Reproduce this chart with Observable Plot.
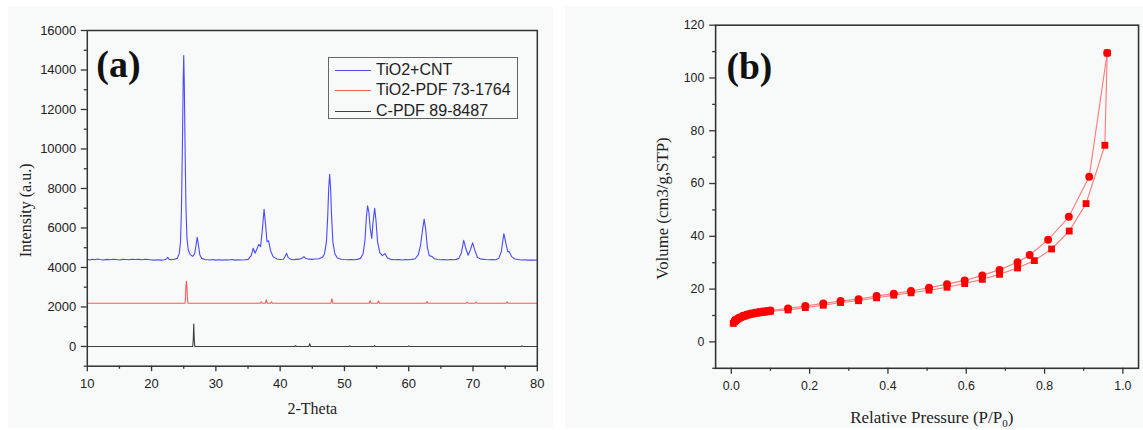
<!DOCTYPE html>
<html>
<head>
<meta charset="utf-8">
<script src="https://cdn.jsdelivr.net/npm/d3@7"></script>
<script src="https://cdn.jsdelivr.net/npm/@observablehq/plot@0.6"></script>
<style>
  html, body { margin: 0; padding: 0; background: #ffffff; }
  #page { position: relative; width: 1143px; height: 430px; overflow: hidden; background: #ffffff; }
  .panel-bg { position: absolute; background: #f8f9f9; }
  .chart { position: absolute; top: 0; }
  .legend { position: absolute; border: 1px solid #666; box-sizing: border-box; }
  .legend-row { position: absolute; left: 0; height: 20px; }
  .legend-line { position: absolute; height: 0; border-top: 1.2px solid; }
  .legend-text { position: absolute; font-family: "Liberation Sans", Arial, sans-serif; font-size: 16px; color: #222; line-height: 20px; white-space: nowrap; }
  .xtitle { position: absolute; font-family: "Liberation Serif", "Times New Roman", serif; font-size: 17px; color: #222; line-height: 20px; text-align: center; white-space: nowrap; }
  .xtitle sub { font-size: 11px; vertical-align: -4px; line-height: 0; }
</style>
</head>
<body>
<div id="page">
  <div class="panel-bg" style="left:8px;top:7px;width:545px;height:421px;"></div>
  <div class="panel-bg" style="left:565px;top:7px;width:578px;height:421px;"></div>
  <div id="chartA" class="chart" style="left:0px;"></div>
  <div id="chartB" class="chart" style="left:570px;"></div>
</div>
<script>
// ---------- Panel (a): XRD patterns ----------
const xrdTicks = [10, 20, 30, 40, 50, 60, 70, 80];
const xrdMinorTicks = [15, 25, 35, 45, 55, 65, 75];
const intensityTicks = [0, 2000, 4000, 6000, 8000, 10000, 12000, 14000, 16000];
const intensityMinorTicks = [-1000, 1000, 3000, 5000, 7000, 9000, 11000, 13000, 15000];

const seriesNames = ["TiO2+CNT", "TiO2-PDF 73-1764", "C-PDF 89-8487"];
const seriesColors = ["#4a4aff", "#ff5a5a", "#404040"];

const cntPattern = [
  [10.0,4410],[10.4,4380],[10.8,4420],[11.2,4390],[11.6,4430],[12.0,4400],[12.5,4380],[13.0,4410],[13.5,4390],
  [14.0,4420],[14.5,4400],[15.0,4380],[15.5,4410],[16.0,4400],[16.5,4390],[17.0,4420],[17.5,4400],[18.0,4410],
  [18.5,4390],[19.0,4420],[19.5,4400],[20.0,4380],[20.5,4370],[21.0,4390],[21.5,4370],[22.0,4390],[22.3,4430],
  [22.5,4510],[22.7,4420],[23.0,4390],[23.5,4420],[24.0,4460],[24.3,4700],[24.5,5300],[24.65,7000],[24.8,10300],
  [24.92,13500],[25.0,14730],[25.08,13500],[25.2,10300],[25.35,7000],[25.5,5500],[25.7,4900],[26.0,4650],
  [26.4,4560],[26.7,4700],[26.9,5100],[27.1,5525],[27.3,5100],[27.5,4650],[27.8,4460],[28.3,4400],[29.0,4380],
  [29.5,4400],[30.0,4370],[30.5,4390],[31.0,4370],[31.5,4390],[32.0,4380],[32.5,4400],[33.0,4370],[33.5,4390],
  [34.0,4380],[34.5,4390],[35.0,4410],[35.5,4600],[35.8,4970],[36.1,4720],[36.4,4950],[36.67,5170],[36.95,5050],
  [37.2,5800],[37.5,6950],[37.75,6100],[37.95,5300],[38.2,5350],[38.5,4850],[38.9,4550],[39.5,4430],[40.0,4400],
  [40.5,4420],[40.75,4550],[41.0,4715],[41.25,4500],[41.6,4420],[42.0,4390],[42.5,4410],[43.0,4420],[43.3,4450],
  [43.7,4545],[44.0,4450],[44.5,4420],[45.0,4410],[45.5,4430],[46.0,4440],[46.6,4520],[46.9,4700],[47.2,5300],
  [47.4,6600],[47.55,8000],[47.7,8720],[47.85,8000],[48.0,6600],[48.2,5300],[48.5,4700],[48.9,4480],[49.5,4420],
  [50.0,4400],[50.5,4390],[51.0,4400],[51.5,4390],[52.0,4410],[52.5,4460],[52.9,4700],[53.2,5400],[53.4,6500],
  [53.6,7120],[53.8,6800],[54.0,6000],[54.25,5475],[54.45,6300],[54.7,6990],[54.9,6400],[55.15,5300],[55.5,4750],
  [55.9,4600],[56.3,4700],[56.7,4480],[57.2,4410],[57.8,4390],[58.5,4400],[59.0,4380],[59.5,4400],[60.0,4390],
  [60.5,4410],[61.0,4440],[61.5,4650],[61.85,5150],[62.15,5900],[62.4,6450],[62.65,5900],[62.9,5000],[63.2,4600],
  [63.6,4560],[64.0,4440],[64.5,4400],[65.0,4390],[65.5,4400],[66.0,4380],[66.5,4400],[67.0,4390],[67.4,4410],
  [67.8,4460],[68.2,4750],[68.55,5370],[68.85,5000],[69.25,4620],[69.6,4900],[69.95,5250],[70.25,4900],
  [70.7,4500],[71.3,4420],[72.0,4400],[72.5,4390],[73.0,4400],[73.5,4390],[74.0,4450],[74.4,4800],[74.8,5710],
  [75.1,5250],[75.4,4800],[75.65,4800],[76.0,4550],[76.5,4430],[77.0,4400],[77.5,4380],[78.0,4390],[78.5,4370],
  [79.0,4380],[79.5,4370],[80.0,4380]
];

const tio2Reference = [
  [10.0,2190],[25.2,2190],[25.27,2450],[25.35,3100],[25.42,3300],[25.5,3000],[25.58,2420],[25.65,2190],
  [36.9,2190],[37.05,2260],[37.2,2190],[37.7,2190],[37.85,2360],[38.0,2190],[38.5,2190],[38.65,2260],[38.8,2190],
  [47.9,2190],[48.05,2410],[48.2,2190],[53.85,2190],[54.0,2320],[54.15,2190],[55.15,2190],[55.3,2310],[55.45,2190],
  [62.7,2190],[62.85,2280],[63.0,2190],[68.95,2190],[69.1,2240],[69.25,2190],[70.35,2190],[70.5,2240],[70.65,2190],
  [75.15,2190],[75.3,2260],[75.45,2190],[80.0,2190]
];

const carbonReference = [
  [10.0,0],[26.4,0],[26.48,350],[26.56,1130],[26.64,350],[26.72,0],[42.3,0],[42.4,40],[42.5,0],
  [44.45,0],[44.6,135],[44.75,0],[50.7,0],[50.8,30],[50.9,0],[54.6,0],[54.7,40],[54.8,0],
  [59.9,0],[60.0,30],[60.1,0],[77.5,0],[77.6,30],[77.7,0],[80.0,0]
];

// ---------- Panel (b): N2 isotherm ----------
const pressureTicks = [0, 0.2, 0.4, 0.6, 0.8, 1.0];
const pressureMinorTicks = [0.1, 0.3, 0.5, 0.7, 0.9];
const volumeTicks = [0, 20, 40, 60, 80, 100, 120];
const volumeMinorTicks = [-10, 10, 30, 50, 70, 90, 110];

const adsP = [0.005,0.008,0.011,0.014,0.017,0.020,0.024,0.028,0.032,0.036,0.040,0.045,0.050,0.055,0.060,0.065,0.070,0.075,0.080,0.085,0.090,0.095,0.100,0.145,0.189,0.235,0.279,0.325,0.371,0.415,0.459,0.505,0.551,0.596,0.641,0.685,0.731,0.774,0.818,0.863,0.906,0.954,0.960];
const adsV = [7.0,7.6,8.0,8.4,8.7,9.0,9.3,9.5,9.7,9.9,10.1,10.3,10.5,10.6,10.8,10.9,11.0,11.1,11.2,11.3,11.4,11.5,11.6,12.1,13.0,13.9,14.9,15.6,16.7,17.7,18.6,19.6,20.7,22.1,23.7,25.6,28.0,30.8,35.2,42.0,52.4,74.5,109.5];
const desP = [0.960,0.914,0.862,0.809,0.762,0.731,0.685,0.641,0.596,0.551,0.505,0.459,0.415,0.371,0.325,0.279,0.235,0.189,0.145,0.100,0.090,0.080,0.070,0.060,0.050,0.040,0.030,0.020,0.010];
const desV = [109.5,62.6,47.4,38.7,32.9,30.2,27.3,25.2,23.3,21.9,20.5,19.3,18.3,17.4,16.2,15.5,14.6,13.6,12.7,11.9,11.7,11.5,11.3,11.1,10.8,10.4,9.9,9.2,8.3];

const serif = "'Liberation Serif', 'Times New Roman', serif";
const sans = "'Liberation Sans', Arial, sans-serif";

// ---- build chart (a)
const xrdRows = [
  ...cntPattern.map(([t, v]) => ({t, v, s: seriesNames[0]})),
  ...tio2Reference.map(([t, v]) => ({t, v, s: seriesNames[1]})),
  ...carbonReference.map(([t, v]) => ({t, v, s: seriesNames[2]}))
];

const chartA = Plot.plot({
  width: 560, height: 430,
  marginLeft: 86.8, marginRight: 23.2, marginTop: 30, marginBottom: 64.3,
  x: {domain: [10, 80]},
  y: {domain: [-1000, 16000]},
  color: {domain: seriesNames, range: seriesColors},
  style: {background: "transparent", fontFamily: sans, fontSize: "13px", color: "#222", overflow: "visible"},
  marks: [
    Plot.axisX({ticks: xrdTicks, tickSize: 5.5, tickPadding: 7, tickFormat: d => String(d), label: null, stroke: "#333", strokeWidth: 1.3}),
    Plot.axisX({ticks: xrdMinorTicks, tickSize: 3, tickFormat: () => "", label: null, stroke: "#333", strokeWidth: 1.3}),
    Plot.axisY({ticks: intensityTicks, tickSize: 6, tickPadding: 5, tickFormat: d => String(d), label: null, stroke: "#333", strokeWidth: 1.3}),
    Plot.axisY({ticks: intensityMinorTicks, tickSize: 3, tickFormat: () => "", label: null, stroke: "#333", strokeWidth: 1.3}),
    Plot.line(xrdRows, {x: "t", y: "v", z: "s", stroke: "s", strokeWidth: 1.1}),
    Plot.frame({stroke: "#333", strokeWidth: 1.5}),
    Plot.text(["(a)"], {frameAnchor: "top-left", textAnchor: "start", lineAnchor: "top", dx: 9, dy: 19.5,
      fontSize: 38, fontWeight: "bold", fontFamily: serif, fill: "#111"}),
    Plot.text(["Intensity (a.u.)"], {frameAnchor: "left", rotate: -90, dx: -61, dy: 12, textAnchor: "middle", lineAnchor: "middle",
      fontSize: 16, fontFamily: serif, fill: "#222"}),
    Plot.text(["2-Theta"], {frameAnchor: "bottom", dy: 42.3, textAnchor: "middle", lineAnchor: "middle",
      fontSize: 16, fontFamily: serif, fill: "#222"})
  ]
});
document.getElementById("chartA").appendChild(chartA);

// legend (inside panel a)
const legend = document.createElement("div");
legend.className = "legend";
Object.assign(legend.style, {left: "328px", top: "57px", width: "190px", height: "62px"});
const rowCenters = [11.5, 32, 52.5];
seriesNames.forEach((name, i) => {
  const line = document.createElement("div");
  line.className = "legend-line";
  Object.assign(line.style, {left: "6px", width: "36px", top: rowCenters[i] + "px", borderTopColor: seriesColors[i]});
  legend.appendChild(line);
  const txt = document.createElement("div");
  txt.className = "legend-text";
  txt.textContent = name;
  Object.assign(txt.style, {left: "47px", top: (rowCenters[i] - 10) + "px"});
  legend.appendChild(txt);
});
document.getElementById("page").appendChild(legend);

// ---- build chart (b)
const ads = adsP.map((p, i) => ({p, v: adsV[i]}));
const des = desP.map((p, i) => ({p, v: desV[i]}));

const chartB = Plot.plot({
  width: 580, height: 430,
  marginLeft: 146.9, marginRight: 5, marginTop: 25, marginBottom: 57.7,
  x: {domain: [-0.04, 1.04]},
  y: {domain: [-10, 120]},
  style: {background: "transparent", fontFamily: sans, fontSize: "12.5px", color: "#222", overflow: "visible"},
  marks: [
    Plot.axisX({ticks: pressureTicks, tickSize: 6, tickPadding: 7, tickFormat: d3.format(".1f"), label: null, stroke: "#333", strokeWidth: 1.3}),
    Plot.axisX({ticks: pressureMinorTicks, tickSize: 3, tickFormat: () => "", label: null, stroke: "#333", strokeWidth: 1.3}),
    Plot.axisY({ticks: volumeTicks, tickSize: 6, tickPadding: 5.5, tickFormat: d => String(d), label: null, stroke: "#333", strokeWidth: 1.3}),
    Plot.axisY({ticks: volumeMinorTicks, tickSize: 3, tickFormat: () => "", label: null, stroke: "#333", strokeWidth: 1.3}),
    Plot.line(ads, {x: "p", y: "v", stroke: "#ff7878", strokeWidth: 1.1}),
    Plot.line(des, {x: "p", y: "v", stroke: "#ff7878", strokeWidth: 1.1}),
    Plot.dot(ads, {x: "p", y: "v", symbol: "square", r: 3.9, fill: "#ff0000", stroke: "none"}),
    Plot.dot(des, {x: "p", y: "v", symbol: "circle", r: 4, fill: "#ff0000", stroke: "none"}),
    Plot.frame({stroke: "#333", strokeWidth: 1.6}),
    Plot.text(["(b)"], {frameAnchor: "top-left", textAnchor: "start", lineAnchor: "top", dx: 11, dy: 27,
      fontSize: 38, fontWeight: "bold", fontFamily: serif, fill: "#111"}),
    Plot.text(["Volume (cm3/g,STP)"], {frameAnchor: "left", rotate: -90, dx: -53.7, dy: 12, textAnchor: "middle", lineAnchor: "middle",
      fontSize: 17, fontFamily: serif, fill: "#222"})
  ]
});
document.getElementById("chartB").appendChild(chartB);

const xt = document.createElement("div");
xt.className = "xtitle";
xt.innerHTML = "Relative Pressure (P/P<sub>0</sub>)";
Object.assign(xt.style, {left: "781.8px", width: "300px", top: "408px"});
document.getElementById("page").appendChild(xt);
</script>
</body>
</html>
